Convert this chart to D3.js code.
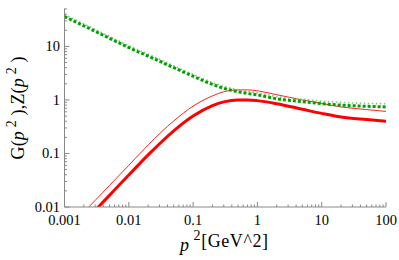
<!DOCTYPE html>
<html><head><meta charset="utf-8">
<script src="https://cdn.jsdelivr.net/npm/d3@7"></script>
<style>
html,body{margin:0;padding:0;background:#fff;}
svg{display:block;}
</style></head>
<body>
<svg id="chart" width="399" height="260"></svg>
<script>
// momentum grid p^2 [GeV^2]
const pGrid = [0.001,0.002,0.005,0.01,0.02,0.05,0.1,0.2,0.3,0.5,0.7,1,2,5,10,20,50,100];
// thick red curve
const redThick = [0.0022,0.0052,0.0165,0.0395,0.094,0.265,0.5,0.78,0.92,1.0,1.0,0.97,0.85,0.67,0.56,0.48,0.43,0.40];
// thin red curve
const redThin = [0.0034,0.008,0.0252,0.060,0.144,0.405,0.765,1.19,1.42,1.54,1.54,1.48,1.25,1.0,0.86,0.74,0.66,0.61];
// thick dashed green curve
const greenThick = [36,24.2,14.2,9.5,6.6,4.0,2.77,1.95,1.65,1.42,1.32,1.24,1.05,0.93,0.85,0.8,0.76,0.74];
// thin dotted green curve
const greenThin = [39,26.5,15.4,10.3,7.2,4.35,3.0,2.12,1.8,1.55,1.44,1.36,1.16,1.03,0.95,0.9,0.86,0.85];

const xTicks = [0.001,0.01,0.1,1,10,100];
const xTickLabels = ["0.001","0.01","0.1","1","10","100"];
const yTicks = [0.01,0.1,1,10];
const yTickLabels = ["0.01","0.1","1","10"];

const FONT = "'Liberation Serif'";
const W = 399, H = 260;
const margin = {left:64.5, right:13, top:8.5, bottom:53};
const svg = d3.select("#chart");
const x = d3.scaleLog().domain([0.001,100]).range([margin.left, W - margin.right]);
const y = d3.scaleLog().domain([0.01,51]).range([H - margin.bottom, margin.top]);

svg.append("defs").append("clipPath").attr("id","clip")
  .append("rect").attr("x",margin.left).attr("y",margin.top)
  .attr("width",W-margin.left-margin.right).attr("height",H-margin.top-margin.bottom);

const line = vals => d3.line()
  .x((d,i)=>x(pGrid[i])).y(d=>y(d)).curve(d3.curveMonotoneX)(vals);

const g = svg.append("g").attr("clip-path","url(#clip)");
g.append("path").attr("d",line(redThin)).attr("fill","none").attr("stroke","#ff2020").attr("stroke-width",1);
g.append("path").attr("d",line(redThick)).attr("fill","none").attr("stroke","#ff0000").attr("stroke-width",3);
g.append("path").attr("d",line(greenThin)).attr("fill","none").attr("stroke","#7acc7a").attr("stroke-width",1.6).attr("stroke-dasharray","1.5,2.5");
g.append("path").attr("d",line(greenThick)).attr("fill","none").attr("stroke","#00a000").attr("stroke-width",3).attr("stroke-dasharray","3,2");

// minor ticks
const minor = [];
for (let e=-3;e<2;e++) for (let k=2;k<10;k++) minor.push(k*Math.pow(10,e));
const yMinor = [];
for (let e=-2;e<2;e++) for (let k=2;k<10;k++) { const v=k*Math.pow(10,e); if (v<=51) yMinor.push(v); }

const axisCol = "#888";
// x axis
const xa = svg.append("g").attr("transform",`translate(0,${H-margin.bottom})`);
xa.append("line").attr("x1",margin.left).attr("x2",W-margin.right).attr("stroke",axisCol).attr("stroke-width",1);
xa.selectAll(".mj").data(xTicks).enter().append("line")
  .attr("x1",d=>x(d)).attr("x2",d=>x(d)).attr("y1",0).attr("y2",-5).attr("stroke",axisCol);
xa.selectAll(".mn").data(minor).enter().append("line")
  .attr("x1",d=>x(d)).attr("x2",d=>x(d)).attr("y1",0).attr("y2",-2.5).attr("stroke",axisCol);
xa.selectAll(".lb").data(xTicks).enter().append("text")
  .style("font-family",FONT)
  .attr("x",d=>x(d)).attr("y",18).attr("text-anchor","middle").attr("font-size",14.5)
  .text((d,i)=>xTickLabels[i]);

// y axis
const ya = svg.append("g").attr("transform",`translate(${margin.left},0)`);
ya.append("line").attr("y1",margin.top).attr("y2",H-margin.bottom).attr("stroke",axisCol).attr("stroke-width",1);
ya.selectAll(".mj").data(yTicks).enter().append("line")
  .attr("y1",d=>y(d)).attr("y2",d=>y(d)).attr("x1",0).attr("x2",5).attr("stroke",axisCol);
ya.selectAll(".mn").data(yMinor).enter().append("line")
  .attr("y1",d=>y(d)).attr("y2",d=>y(d)).attr("x1",0).attr("x2",2.5).attr("stroke",axisCol);
ya.selectAll(".lb").data(yTicks).enter().append("text")
  .style("font-family",FONT)
  .attr("x",-4.5).attr("y",d=>y(d)+5).attr("text-anchor","end").attr("font-size",14.5)
  .text((d,i)=>yTickLabels[i]);

// x label
const xl = svg.append("text").style("font-family",FONT).attr("x",224).attr("y",247).attr("text-anchor","middle")
  .attr("font-size",18).attr("textLength",88).attr("lengthAdjust","spacing");
xl.append("tspan").attr("font-style","italic").attr("dy",4).text("p");
xl.append("tspan").attr("font-size",14).attr("dy",-11).text(" 2");
xl.append("tspan").attr("dy",7).text("[GeV^2]");

// y label
const yl = svg.append("text").style("font-family",FONT).attr("transform","translate(24,108) rotate(-90)").attr("text-anchor","middle")
  .attr("font-size",18).attr("textLength",103).attr("lengthAdjust","spacing");
yl.append("tspan").text("G(");
yl.append("tspan").attr("font-style","italic").text("p");
yl.append("tspan").attr("font-size",14).attr("dy",-8).text(" 2");
yl.append("tspan").attr("dy",8).text(" ),Z(");
yl.append("tspan").attr("font-style","italic").text("p");
yl.append("tspan").attr("font-size",14).attr("dy",-8).text(" 2");
yl.append("tspan").attr("dy",8).text(" )");
</script>
</body></html>
